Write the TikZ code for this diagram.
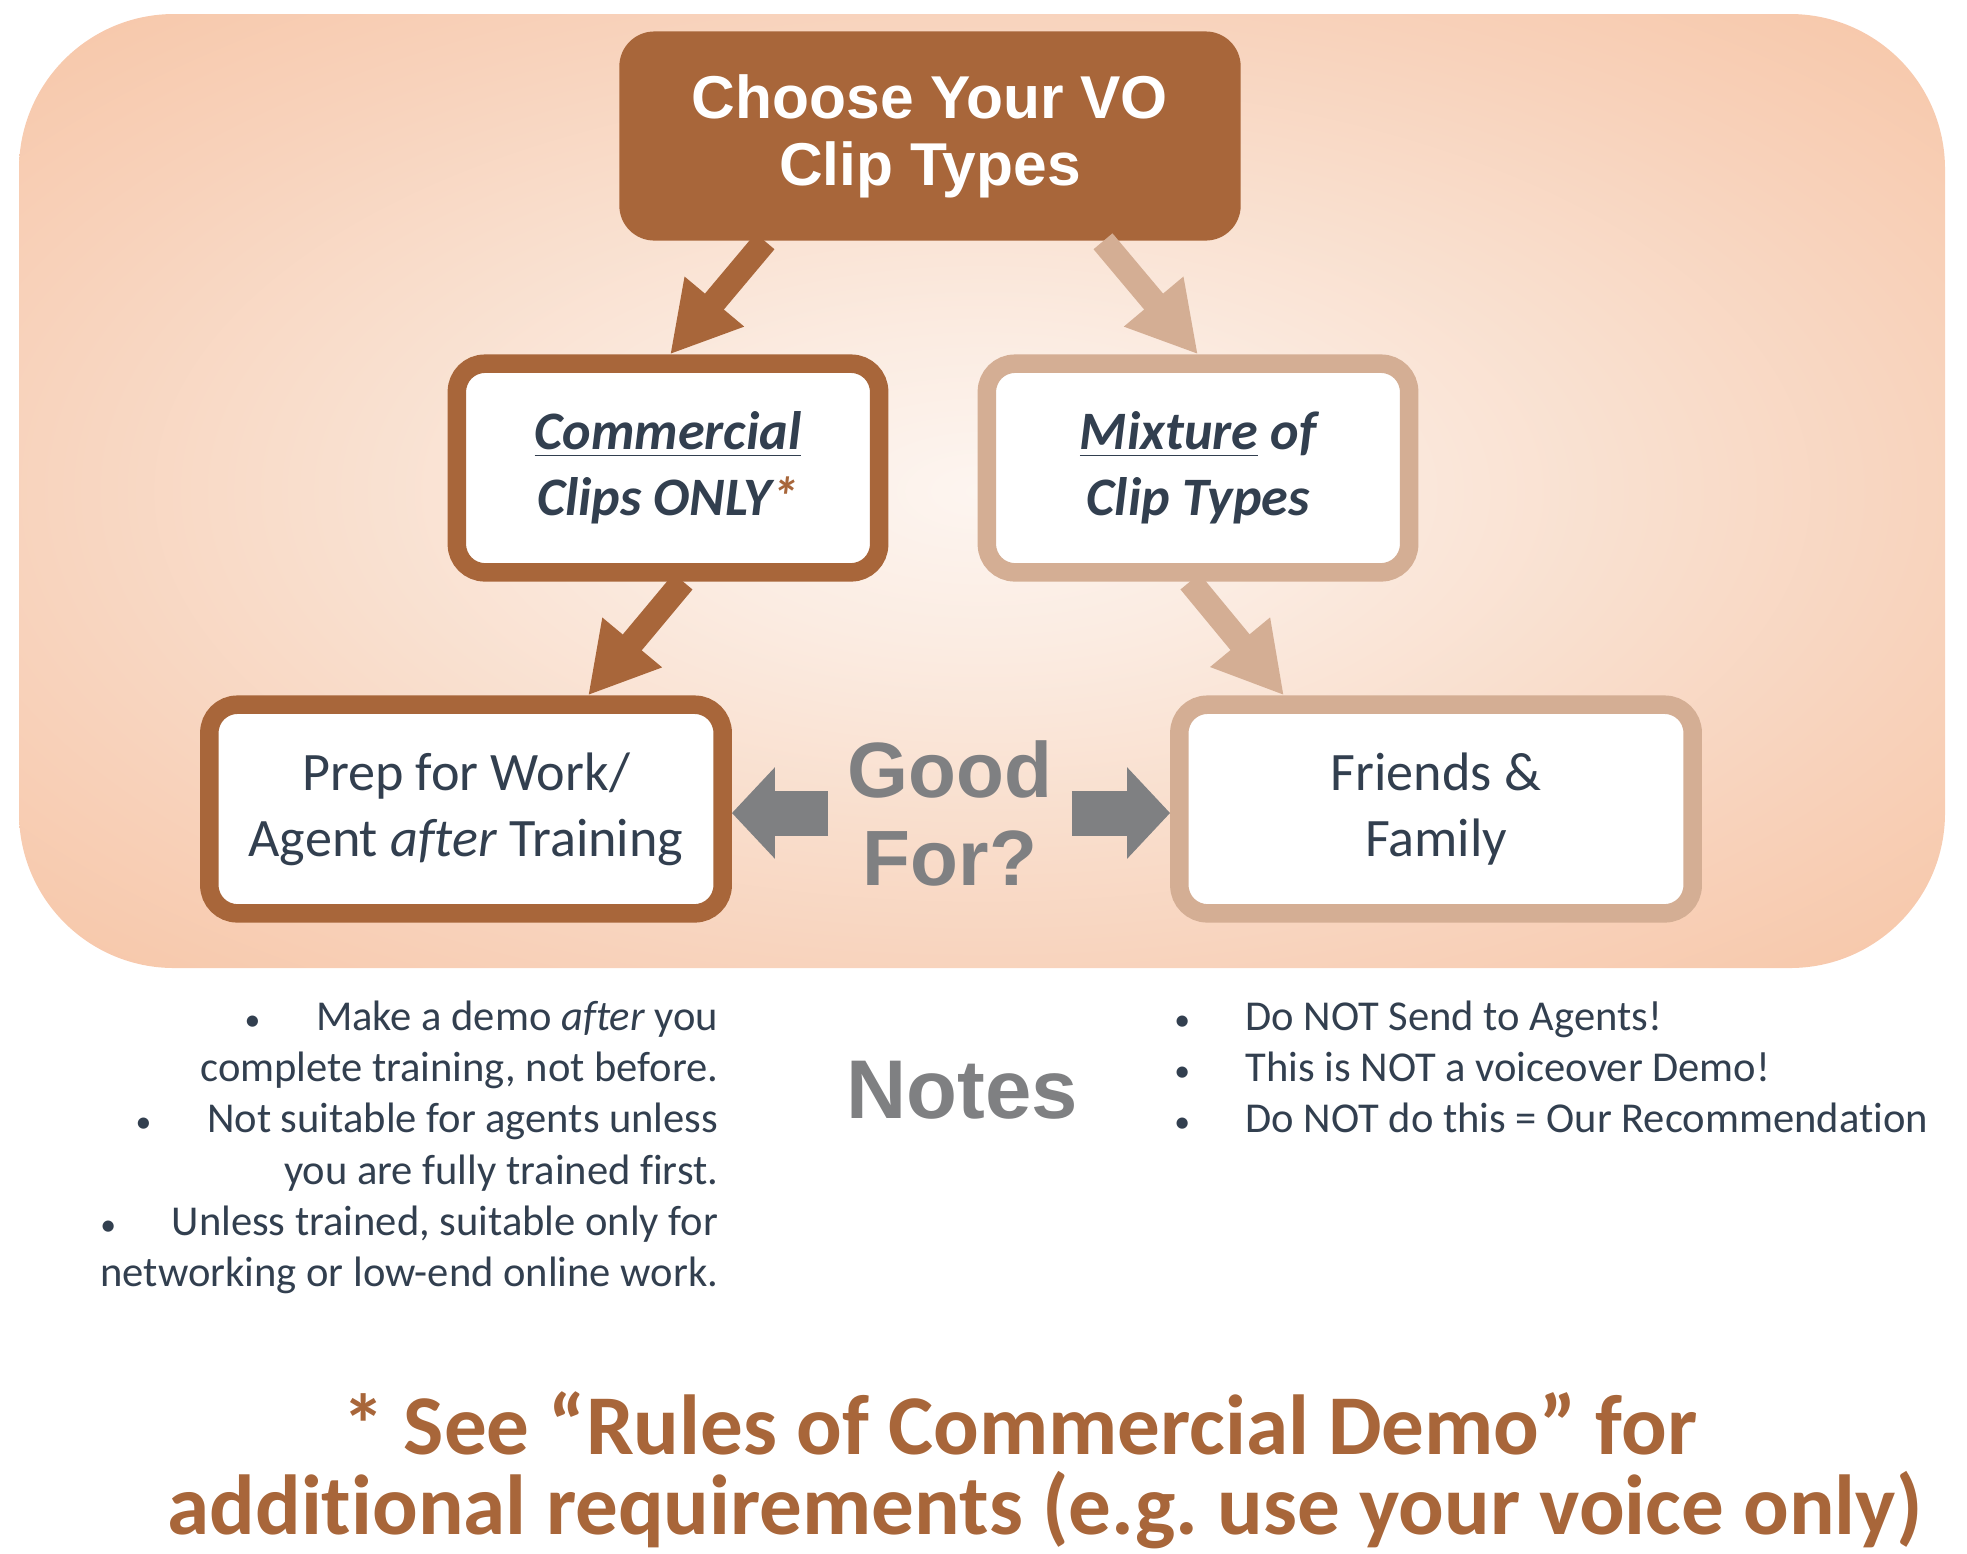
\documentclass[tikz,border=0pt]{standalone}
\usepackage{fontspec}
\setmainfont{Carlito}[Ligatures=NoCommon]
\newfontfamily\headfont{Liberation Sans}
\usepackage{xcolor}
\usepackage{tikz}
\usetikzlibrary{positioning,calc,arrows.meta}
\definecolor{clipbrown}{RGB}{168,102,58}
\definecolor{cliptan}{RGB}{212,174,148}
\definecolor{inkblue}{RGB}{50,63,79}
\definecolor{goodgray}{RGB}{127,128,130}
\definecolor{glowA}{RGB}{253,245,240}
\definecolor{glowB}{RGB}{251,236,226}
\definecolor{glowC}{RGB}{249,223,206}
\definecolor{glowD}{RGB}{248,210,187}
\definecolor{glowE}{RGB}{247,199,169}
\definecolor{glowF}{RGB}{246,194,162}
\definecolor{glowG}{RGB}{249,213,191}
\pgfdeclareradialshading{peachglow}{\pgfpoint{0bp}{0bp}}{color(0bp)=(glowA); color(8bp)=(glowB); color(17bp)=(glowC); color(26bp)=(glowD); color(35bp)=(glowE); color(43bp)=(glowF); color(54bp)=(glowF); color(66bp)=(glowG); color(72bp)=(glowG)}
\newcommand{\notebullet}{\makebox[0.21cm]{\fontsize{9}{9}\selectfont\textbullet}\hspace{0.53cm}}
\tikzstyle{topbox}= [rectangle, rounded corners=0.35cm, fill=clipbrown, text=white, align=center, inner sep=0pt, minimum width=6.21cm, minimum height=2.09cm, font=\headfont\bfseries\fontsize{17.2}{19.1}\selectfont]
\tikzstyle{darkbox}= [rectangle, rounded corners=0.28cm, draw=clipbrown, line width=0.185cm, fill=white, text=inkblue, align=center, inner sep=0pt, minimum height=2.085cm, font=\fontsize{15.4}{18.7}\selectfont]
\tikzstyle{lightbox}= [darkbox, draw=cliptan]
\tikzstyle{darkarrow}= [draw=clipbrown, line width=0.247cm, -{Triangle[length=0.69cm,width=0.725cm]}]
\tikzstyle{lightarrow}= [darkarrow, draw=cliptan]
\tikzstyle{grayarrow}= [draw=goodgray, line width=0.45cm, -{Triangle[length=0.43cm,width=0.89cm]}]
\tikzstyle{graytext}= [text=goodgray, align=center, inner sep=0pt, font=\headfont\bfseries\fontsize{22.3}{25}\selectfont]
\tikzstyle{notetext}= [text=inkblue, inner sep=0pt, font=\fontsize{12.1}{14.6}\selectfont]

\begin{document}
\frenchspacing
\begin{tikzpicture}
					\pgfsetxvec{\pgfpoint{0.01cm}{0cm}} 
					\pgfsetyvec{\pgfpoint{0cm}{-0.01cm}} 
					\useasboundingbox (0,0) rectangle (1967,1553);
					\shade[shading=peachglow, rounded corners=1.55cm] (19,14) rectangle (1945,968);
					\node[topbox] at (930,136) (choose) {Choose Your VO\\Clip Types}; 
					\node[darkbox, minimum width=4.22cm] at (668,468) (commercial) {\bfseries\itshape\underline{Commercial}\\\bfseries\itshape Clips ONLY{\color{clipbrown}*}}; 
					\node[lightbox, minimum width=4.22cm] at (1198,468) (mixture) {\bfseries\itshape\underline{Mixture} of\\\bfseries\itshape Clip Types}; 
					\node[darkbox, minimum width=5.13cm] at (466,809) (prep) {Prep for Work/\\Agent \textit{after} Training}; 
					\node[lightbox, minimum width=5.13cm] at (1436,809) (friends) {Friends \&\\Family}; 
					\node[graytext, minimum width=2.42cm] at (950,813) (goodfor) {Good\\For?}; 
					\draw[darkarrow] ($(choose.south)+(-165,0)$) -- ($(commercial.north)+(2,0)$);
					\draw[lightarrow] ($(choose.south)+(173,0)$) -- ($(mixture.north)+(0,0)$);
					\draw[darkarrow] ($(commercial.south)+(15,0)$) -- ($(prep.north)+(122,0)$);
					\draw[lightarrow] ($(mixture.south)+(-8,0)$) -- ($(friends.north)+(-152,0)$);
					\draw[grayarrow] (goodfor.west) -- (goodfor.west -| prep.east);
					\draw[grayarrow] (goodfor.east) -- (goodfor.east -| friends.west);
					% notes under the panel
					\node[graytext, font=\headfont\bfseries\fontsize{23.7}{26}\selectfont] at (962,1090) (notes) {Notes}; 
					\node[notetext, align=right, anchor=north east] at (719,1000) (leftnotes) {\notebullet Make a demo \textit{after} you\\complete training, not before.\\\notebullet Not suitable for agents unless\\you are fully trained first.\\\notebullet Unless trained, suitable only for\\networking or low-end online work.}; 
					\node[notetext, align=left, anchor=north west] at (1171,1000) (rightnotes) {\notebullet Do NOT Send to Agents!\\\notebullet This is NOT a voiceover Demo!\\\notebullet Do NOT do this = Our Recommendation}; 
					\node[text=clipbrown, align=center, inner sep=0pt, font=\bfseries\fontsize{24.2}{22.8}\selectfont] at (1045,1470) (footnote) {* See “Rules of Commercial Demo” for\hspace*{0.5cm}\\additional requirements (e.g. use your voice only)}; 
				\end{tikzpicture}
\end{document}
